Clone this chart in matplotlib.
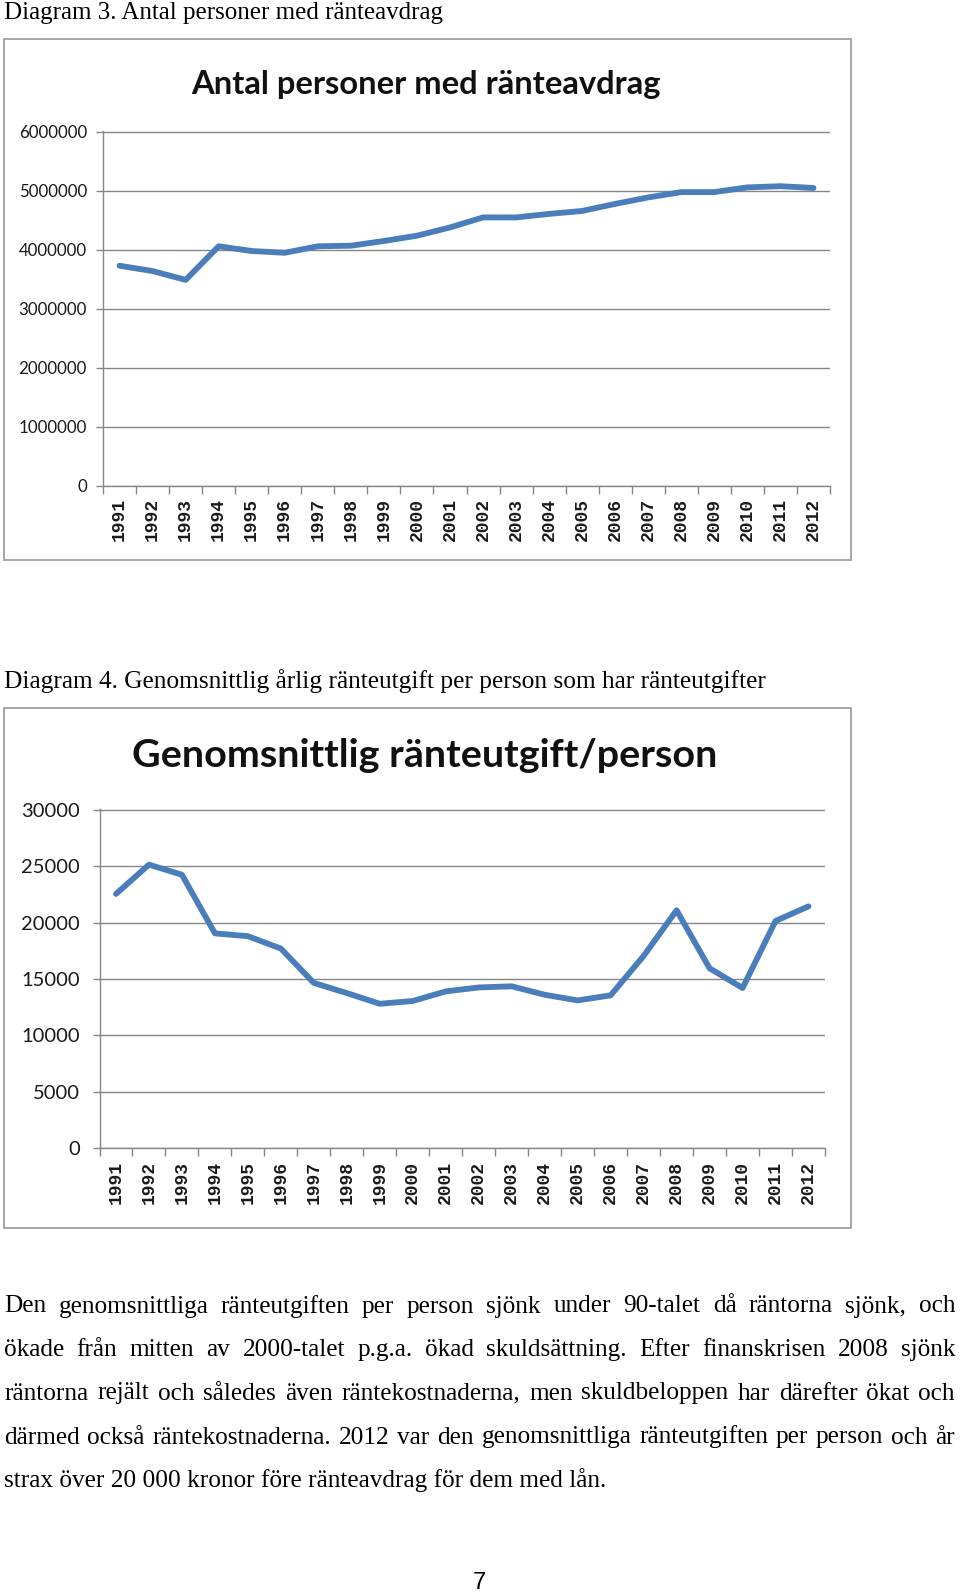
import matplotlib
matplotlib.use("Agg")
import matplotlib.pyplot as plt
from matplotlib.patches import Rectangle
from matplotlib.ticker import FixedLocator

# ---------------- data ----------------
years = [str(y) for y in range(1991, 2013)]
personer = [3730000, 3640000, 3490000, 4060000, 3980000, 3950000, 4060000, 4070000,
            4150000, 4240000, 4380000, 4550000, 4550000, 4610000, 4660000, 4780000,
            4890000, 4980000, 4980000, 5060000, 5080000, 5050000]
utgift = [22550, 25150, 24250, 19050, 18800, 17700, 14650, 13750, 12800, 13050, 13900,
          14250, 14350, 13600, 13100, 13550, 17050, 21100, 15950, 14200, 20150, 21450]
y1_ticks = [0, 1000000, 2000000, 3000000, 4000000, 5000000, 6000000]
y2_ticks = [0, 5000, 10000, 15000, 20000, 25000, 30000]

caption1 = "Diagram 3. Antal personer med ränteavdrag"
caption2 = "Diagram 4. Genomsnittlig årlig ränteutgift per person som har ränteutgifter"
title1 = "Antal personer med ränteavdrag"
title2 = "Genomsnittlig ränteutgift/person"
body_lines = [
    "Den genomsnittliga ränteutgiften per person sjönk under 90-talet då räntorna sjönk, och",
    "ökade från mitten av 2000-talet p.g.a. ökad skuldsättning. Efter finanskrisen 2008 sjönk",
    "räntorna rejält och således även räntekostnaderna, men skuldbeloppen har därefter ökat och",
    "därmed också räntekostnaderna. 2012 var den genomsnittliga ränteutgiften per person och år",
    "strax över 20 000 kronor före ränteavdrag för dem med lån.",
]
page_no = "7"

# ---------------- layout ----------------
W, H = 960, 1593
fig = plt.figure(figsize=(W / 100, H / 100), dpi=100)
fig.patch.set_facecolor("white")
renderer = fig.canvas.get_renderer()


def fx(px):
    return px / W


def fy(py):
    return 1 - py / H


LINE = "#4A7EBB"
GRID = "#868686"
SERIF = ["Liberation Serif", "DejaVu Serif"]
SANS = ["Lato", "DejaVu Sans"]
MONO = ["Liberation Mono", "DejaVu Sans Mono"]


def fit_text(x, y, s, target_w, family, weight="normal", ha="left", va="baseline",
             base=10, color="black"):
    t = fig.text(fx(x), fy(y), s, fontsize=base, family=family, weight=weight,
                 ha=ha, va=va, color=color)
    w = t.get_window_extent(renderer).width
    t.set_fontsize(base * target_w / w)
    return t


def frame(x0, y0, x1, y1):
    fig.patches.append(Rectangle((fx(x0), fy(y1)), (x1 - x0) / W, (y1 - y0) / H,
                                 transform=fig.transFigure, fill=False,
                                 ec="#A0A0A0", lw=1.3))


def make_chart(left, right, y0px, ytop_px, ymax, yticks, values, ylabsize, ypad):
    top_extra = 1.004
    height_px = (y0px - ytop_px) * top_extra
    ax = fig.add_axes([fx(left), fy(y0px), (right - left) / W, height_px / H])
    ax.set_xlim(-0.5, len(years) - 0.5)
    ax.set_ylim(0, ymax * top_extra)
    ax.plot(range(len(years)), values, color=LINE, lw=4.2,
            solid_joinstyle="round", solid_capstyle="round", zorder=3)
    ax.set_yticks(yticks)
    ax.set_yticklabels([str(v) for v in yticks], family=SANS, fontsize=ylabsize,
                       color="#1a1a1a")
    ax.set_xticks(range(len(years)))
    ax.set_xticklabels(years, rotation=90, family=MONO, fontsize=13, color="#1a1a1a",
                       weight="bold")
    ax.xaxis.set_minor_locator(FixedLocator([i - 0.5 for i in range(len(years) + 1)]))
    ax.tick_params(axis="x", which="major", length=0, pad=9)
    ax.tick_params(axis="x", which="minor", length=6, color=GRID, width=1.0)
    ax.tick_params(axis="y", length=5, color=GRID, width=1.0, pad=ypad)
    ax.grid(axis="y", color=GRID, lw=1.0)
    ax.set_axisbelow(True)
    for s in ("top", "right"):
        ax.spines[s].set_visible(False)
    for s in ("left", "bottom"):
        ax.spines[s].set_color(GRID)
        ax.spines[s].set_linewidth(1.0)
    ax.set_facecolor("white")
    return ax


# captions
fit_text(4, 19, caption1, 440, SERIF)
fit_text(4, 688, caption2, 762, SERIF)

# chart 1
frame(4, 39, 851, 560)
fit_text(426, 94, title1, 472, SANS, weight="bold", ha="center", color="#111111")
make_chart(103, 830, 485.5, 132, 6000000, y1_ticks, personer, 12.2, 6.5)

# chart 2
frame(4, 708, 851, 1228)
fit_text(425, 767, title2, 586, SANS, weight="bold", ha="center", color="#111111")
make_chart(99.5, 825, 1148, 810, 30000, y2_ticks, utgift, 14.5, 9)

# body text (justified)
baselines = [1312.5, 1356, 1399.5, 1443.5, 1487]
last = fit_text(4, baselines[4], body_lines[4], 602, SERIF)
fs = last.get_fontsize()
left_x, right_x = 4, 955
for line, yb in zip(body_lines[:4], baselines[:4]):
    words = line.split(" ")
    ts = []
    widths = []
    for wd in words:
        t = fig.text(0, fy(yb), wd, fontsize=fs, family=SERIF, ha="left", va="baseline")
        ts.append(t)
        widths.append(t.get_window_extent(renderer).width)
    gap = (right_x - left_x - sum(widths)) / (len(words) - 1)
    x = left_x
    for t, w in zip(ts, widths):
        t.set_x(fx(x))
        x += w + gap

# page number
fig.text(fx(479), fy(1589), page_no, fontsize=17, family=["Liberation Sans"],
         ha="center", va="baseline")

fig.savefig("out.png", dpi=100)
